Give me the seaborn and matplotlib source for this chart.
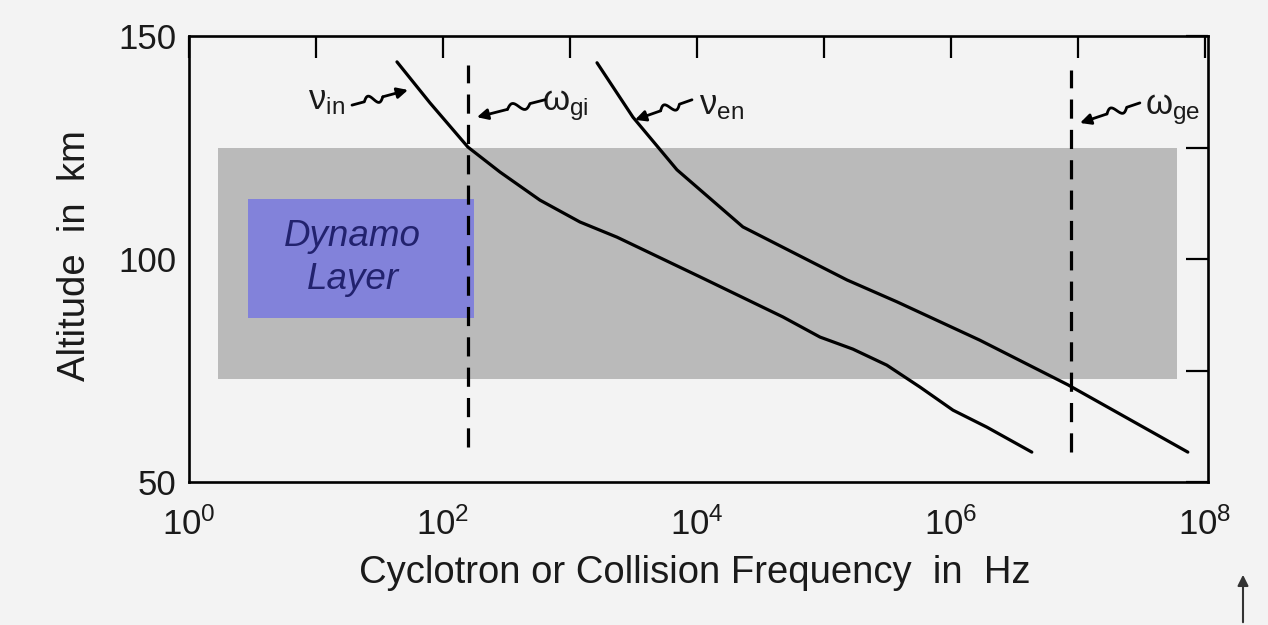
import numpy as np
import pandas as pd
import matplotlib
matplotlib.use("Agg")
import matplotlib.pyplot as plt
import matplotlib.transforms as mtransforms
from matplotlib.patches import Rectangle
from matplotlib.lines import Line2D
import seaborn as sns

# ---------------- data ----------------
nu_in_freq = [43.4, 79, 157, 281, 580, 1198, 2345, 10570, 47600, 93100, 1.69e5, 3.13e5,
              5.70e5, 1.04e6, 1.92e6, 4.34e6]
nu_in_alt = [144.2, 135.0, 125.1, 119.5, 113.2, 108.3, 104.9, 96.0, 87.0, 82.5, 79.8, 76.2,
             71.3, 66.1, 62.3, 56.7]
nu_en_freq = [1633, 3133, 6960, 23000, 1.52e5, 3.76e5, 1.69e6, 8.34e6, 7.35e7]
nu_en_alt = [144.0, 131.8, 120.0, 107.2, 95.3, 90.4, 81.8, 71.8, 56.7]

omega_gi_freq = 158
omega_gi_alt = [57.8, 143.5]
omega_ge_freq = 8.8e6
omega_ge_alt = [56.7, 142.4]

band_freq = [1.7, 6.0e7]        # gray shaded region
band_alt = [73.0, 125.0]
dynamo_freq = [2.9, 177]        # blue "Dynamo Layer" box
dynamo_alt = [86.8, 113.5]

x_tick_vals = [1e0, 1e1, 1e2, 1e3, 1e4, 1e5, 1e6, 1e7, 1e8]
x_tick_labels = [r"$10^{0}$", "", r"$10^{2}$", "", r"$10^{4}$", "", r"$10^{6}$", "", r"$10^{8}$"]
y_tick_vals = [50, 75, 100, 125, 150]
y_tick_labels = ["50", "", "100", "", "150"]

# annotations: label, text position, arrow tail, arrow head (all in data units)
ann_labels = [r"$\mathrm{\nu}_{\mathrm{in}}$", r"$\mathrm{\omega}_{\mathrm{gi}}$",
              r"$\mathrm{\nu}_{\mathrm{en}}$", r"$\mathrm{\omega}_{\mathrm{ge}}$"]
ann_text_pos = [(12.2, 135.6), (914, 134.3), (15700, 134.5), (5.6e7, 133.4)]
ann_tail = [(19.2, 134.5), (635, 135.7), (9140, 135.7), (3.08e7, 135.0)]
ann_head = [(53, 137.9), (185, 131.8), (3250, 131.2), (1.04e7, 130.5)]

# ---------------- styling ----------------
sns.set_theme(style="white")
plt.rcParams["font.family"] = ["Liberation Sans", "DejaVu Sans"]
plt.rcParams["mathtext.fontset"] = "custom"
plt.rcParams["mathtext.rm"] = "Liberation Sans"
plt.rcParams["mathtext.it"] = "Liberation Sans:italic"
plt.rcParams["mathtext.bf"] = "Liberation Sans:bold"

paper = "#f3f3f3"
fig = plt.figure(figsize=(12.68, 6.25), dpi=100, facecolor=paper)
ax = fig.add_axes([0.1491, 0.2288, 0.8036, 0.7136])
ax.set_facecolor(paper)

ax.set_xscale("log")
ax.set_xlim(1, 1.06e8)
ax.set_ylim(50, 150)

# gray band
ax.add_patch(Rectangle((band_freq[0], band_alt[0]), band_freq[1] - band_freq[0],
                       band_alt[1] - band_alt[0], facecolor="#bababa", edgecolor="none", zorder=1))
# dynamo box
ax.add_patch(Rectangle((dynamo_freq[0], dynamo_alt[0]), dynamo_freq[1] - dynamo_freq[0],
                       dynamo_alt[1] - dynamo_alt[0], facecolor="#8282da", edgecolor="none", zorder=2))
ax.text(np.sqrt(dynamo_freq[0] * dynamo_freq[1]) * 0.86, (dynamo_alt[0] + dynamo_alt[1]) / 2,
        "Dynamo\nLayer", ha="center", va="center", fontsize=26.5, style="italic",
        color="#22226e", linespacing=1.3, zorder=3)

# curves via seaborn
df = pd.DataFrame({
    "freq": nu_in_freq + nu_en_freq,
    "alt": nu_in_alt + nu_en_alt,
    "curve": ["nu_in"] * len(nu_in_freq) + ["nu_en"] * len(nu_en_freq),
})
sns.lineplot(data=df, x="freq", y="alt", hue="curve", palette=["black", "black"],
             estimator=None, sort=True, linewidth=2.3, legend=False, ax=ax, zorder=5)

# dashed gyro frequencies
ax.plot([omega_gi_freq, omega_gi_freq], omega_gi_alt, color="black", lw=2.3,
        dashes=(6, 3.5), zorder=4)
ax.plot([omega_ge_freq, omega_ge_freq], omega_ge_alt, color="black", lw=2.3,
        dashes=(6, 3.5), zorder=4)

# axes/ticks
ax.set_xticks(x_tick_vals)
ax.set_xticklabels(x_tick_labels)
ax.xaxis.set_minor_locator(matplotlib.ticker.NullLocator())
ax.set_yticks(y_tick_vals)
ax.set_yticklabels(y_tick_labels)
ax.tick_params(which="major", direction="in", length=16, width=1.6, top=True, right=True,
               labelsize=25, colors="black", labelcolor="#1a1a1a")
ax.tick_params(axis="x", pad=18)
ax.tick_params(axis="y", pad=9)
for s in ax.spines.values():
    s.set_visible(True)
    s.set_color("black")
    s.set_linewidth(1.9)

ax.set_ylabel("Altitude  in  km", fontsize=27.5, color="#1a1a1a", va="center")
ax.yaxis.set_label_coords(-0.112, 0.507)
ax.set_xlabel("Cyclotron or Collision Frequency  in  Hz", fontsize=27.5, color="#1a1a1a", va="center")
ax.xaxis.set_label_coords(0.496, -0.204)

# annotations with zigzag arrows
fig.canvas.draw()
ident = mtransforms.IdentityTransform()
for lab, tp, tail, head in zip(ann_labels, ann_text_pos, ann_tail, ann_head):
    ax.text(tp[0], tp[1], lab, fontsize=25, ha="center", va="center", color="#1a1a1a", zorder=6)
    p0 = np.array(ax.transData.transform(tail))
    p1 = np.array(ax.transData.transform(head))
    d = p1 - p0
    L = np.hypot(*d)
    u = d / L
    n = np.array([-u[1], u[0]])
    ts = np.linspace(0.22, 0.55, 20)
    wig = [p0] + [p0 + t * d + 4.5 * np.sin((t - 0.22) / 0.33 * 2 * np.pi) * n for t in ts]
    wig = np.array(wig)
    ax.add_line(Line2D(wig[:, 0], wig[:, 1], transform=ident, color="black", lw=2.0, zorder=6))
    ax.annotate("", xy=tuple(p1), xytext=tuple(wig[-1]), xycoords="figure pixels",
                textcoords="figure pixels",
                arrowprops=dict(arrowstyle="-|>", color="black", lw=2.0, mutation_scale=16,
                                shrinkA=0, shrinkB=0), zorder=6)

# stray arrow at the bottom-right corner of the scan
fig.add_artist(matplotlib.patches.FancyArrowPatch((1243 / 1268, 0.0), (1243 / 1268, 1 - 572 / 625),
                                                  transform=fig.transFigure, arrowstyle="-|>",
                                                  mutation_scale=16, color="#333333", lw=1.5))

fig.savefig("out.png", dpi=100, facecolor=paper)
